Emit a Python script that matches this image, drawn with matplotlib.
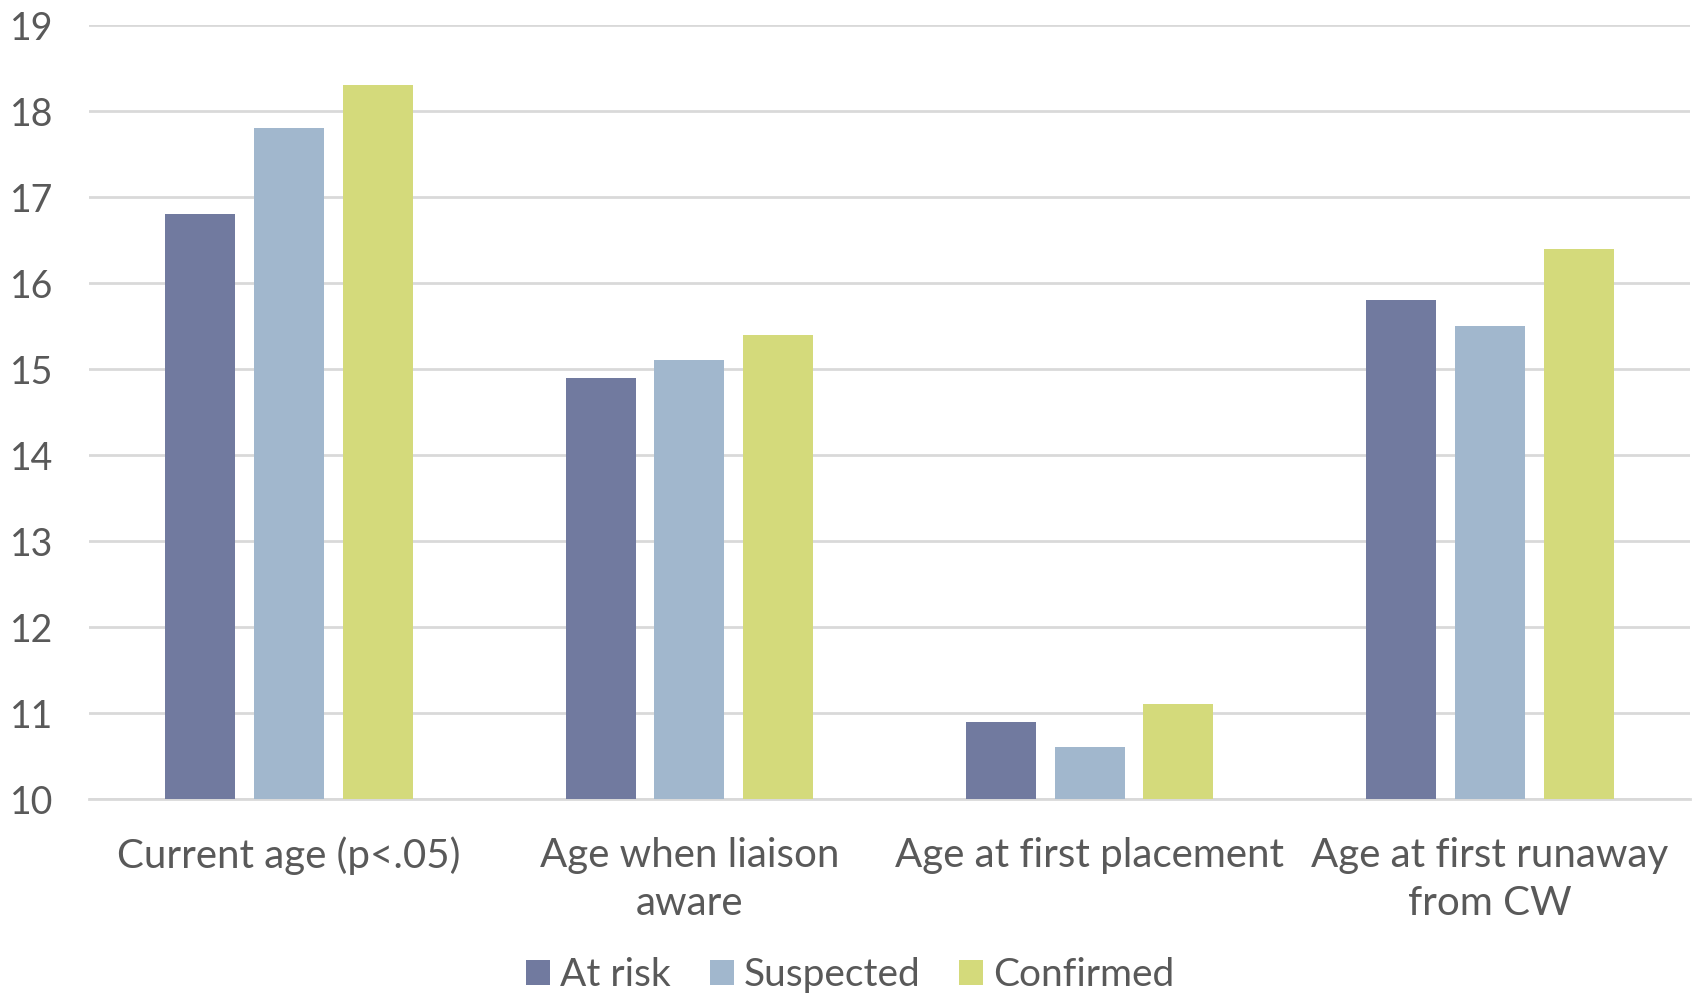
import matplotlib.pyplot as plt
import numpy as np

categories = ["Current age (p<.05)", "Age when liaison\naware",
              "Age at first placement", "Age at first runaway\nfrom CW"]
at_risk = [16.8, 14.9, 10.9, 15.8]
suspected = [17.8, 15.1, 10.6, 15.5]
confirmed = [18.3, 15.4, 11.1, 16.4]
series_names = ["At risk", "Suspected", "Confirmed"]
colors = ["#717a9f", "#a1b7cd", "#d4da7b"]

plt.rcParams['font.family'] = ['Lato', 'DejaVu Sans']
text_color = "#595959"

fig = plt.figure(figsize=(16.94, 9.97), dpi=100)
ax = fig.add_axes([89 / 1694, 1 - 799 / 997, 1601 / 1694, 774 / 997])

x = np.arange(len(categories))
width = 0.175
step = 0.2215
for i, (vals, name, c) in enumerate(zip([at_risk, suspected, confirmed], series_names, colors)):
    ax.bar(x + (i - 1) * step, np.array(vals) - 10, width, bottom=10, color=c,
           label=name, zorder=3)

ax.set_xlim(-0.5, 3.5)
ax.set_ylim(10, 19)
ax.set_yticks(range(10, 20))
ax.set_xticks(x)
ax.set_xticklabels(categories, fontsize=29, color=text_color, linespacing=1.38)
ax.tick_params(axis='both', length=0, colors=text_color)
ax.tick_params(axis='y', labelsize=27, pad=57)
ax.tick_params(axis='x', pad=27)
for lab in ax.get_yticklabels():
    lab.set_horizontalalignment('left')

ax.grid(axis='y', color="#d9d9d9", linewidth=2, zorder=0)
for s in ['top', 'right', 'left']:
    ax.spines[s].set_visible(False)
ax.spines['bottom'].set_color("#d9d9d9")
ax.spines['bottom'].set_linewidth(2)

leg = fig.legend(loc='center', bbox_to_anchor=(0.502, 1 - 975 / 997), ncol=3,
                 frameon=False, fontsize=28, handlelength=0.62, handleheight=0.62,
                 handletextpad=0.25, columnspacing=1.0)
for t in leg.get_texts():
    t.set_color(text_color)

fig.savefig("out.png", dpi=100)
